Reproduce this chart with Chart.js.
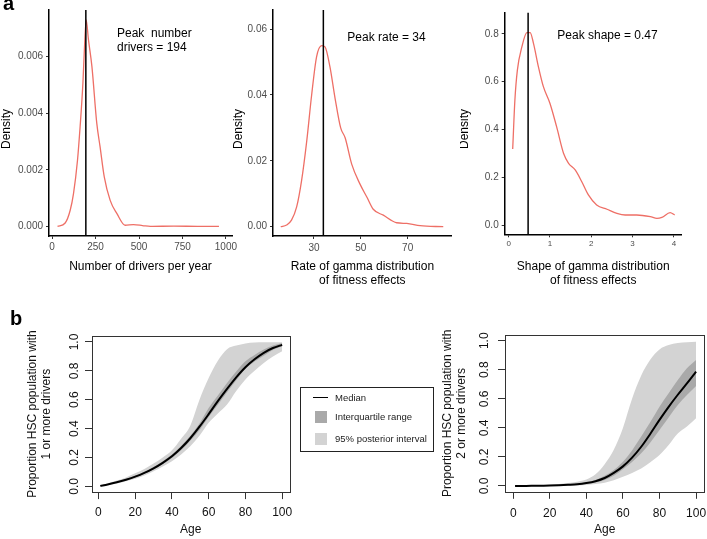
<!DOCTYPE html>
<html>
<head>
<meta charset="utf-8">
<script src="https://cdn.jsdelivr.net/npm/chart.js@4.4.0/dist/chart.umd.min.js"></script>
<style>
  body { margin: 0; background: #fff; font-family: "Liberation Sans", Arial, sans-serif; }
  #fig { position: relative; width: 707px; height: 539px; overflow: hidden; background: #fff; }
  #fig canvas { position: absolute; }
  .letter { position: absolute; font-weight: bold; font-size: 20px; line-height: 20px; color: #000; }
  #legend { position: absolute; left: 300px; top: 387px; width: 134px; height: 65px; box-sizing: border-box; border: 1px solid #222; font-size: 9.5px; color: #222; }
  #legend div { position: absolute; }
  #legend .txt { left: 34px; line-height: 12px; white-space: nowrap; }
</style>
</head>
<body>
<div id="fig">
  <canvas id="a1" width="240" height="290" style="left:0;top:0"></canvas>
  <canvas id="a2" width="232" height="290" style="left:230px;top:0"></canvas>
  <canvas id="a3" width="247" height="290" style="left:460px;top:0"></canvas>
  <canvas id="b1" width="300" height="239" style="left:0;top:300px"></canvas>
  <canvas id="b2" width="360" height="239" style="left:360px;top:300px"></canvas>
  <div class="letter" style="left:3px;top:-7px">a</div>
  <div class="letter" style="left:10px;top:308px">b</div>
  <div id="legend">
    <div style="left:12px;top:9px;width:15px;height:0;border-top:1px solid #000"></div>
    <div class="txt" style="top:4px">Median</div>
    <div style="left:14px;top:23px;width:12px;height:12px;background:#a9a9a9"></div>
    <div class="txt" style="top:23px">Interquartile range</div>
    <div style="left:14px;top:45px;width:12px;height:12px;background:#d3d3d3"></div>
    <div class="txt" style="top:45px">95% posterior interval</div>
  </div>
</div>
<script>
// Panel a: Dichtekurven
const a1X = [31, 75, 104, 123, 146, 161, 177, 186, 196, 209, 229, 257, 276, 300, 334, 373, 420, 468, 520, 565, 700, 850, 960];
const a1Y = [0, 0.00012, 0.00057, 0.00116, 0.00234, 0.00352, 0.00505, 0.0063, 0.0073, 0.0066, 0.00565, 0.00364, 0.00281, 0.00175, 0.00092, 0.00045, 0.00004, 0.00006, 0.00003, 0, 0.00001, 0, 0];
const a1Peak = 194;
const a1XTicks = [0, 250, 500, 750, 1000];
const a1YTicks = [0, 0.002, 0.004, 0.006];

const a2X = [15.8, 18.3, 20.4, 22.6, 24.7, 26.9, 29.0, 31.1, 33.3, 34.7, 36.8, 39.0, 41.4, 43.3, 46.1, 49.6, 52.5, 55.3, 59.6, 65.3, 69.6, 75.3, 85.2];
const a2Y = [0, 0.0005, 0.002, 0.006, 0.014, 0.026, 0.040, 0.0516, 0.055, 0.0546, 0.0486, 0.039, 0.030, 0.027, 0.019, 0.013, 0.0091, 0.0053, 0.0035, 0.0012, 0.001, 0.0003, 0];
const a2Peak = 34;
const a2XTicks = [30, 50, 70];
const a2YTicks = [0, 0.02, 0.04, 0.06];

const a3X = [0.097, 0.15, 0.21, 0.32, 0.44, 0.52, 0.60, 0.72, 0.84, 1.0, 1.16, 1.33, 1.45, 1.61, 1.77, 1.93, 2.13, 2.38, 2.62, 2.82, 3.10, 3.43, 3.59, 3.71, 3.91, 4.02];
const a3Y = [0.319, 0.523, 0.648, 0.746, 0.805, 0.805, 0.76, 0.662, 0.579, 0.509, 0.412, 0.30, 0.259, 0.231, 0.182, 0.127, 0.085, 0.067, 0.050, 0.043, 0.043, 0.036, 0.029, 0.033, 0.053, 0.043];
const a3Peak = 0.47;
const a3XTicks = [0, 1, 2, 3, 4];
const a3YTicks = [0, 0.2, 0.4, 0.6, 0.8];

// Panel b: Anteil HSC mit Treibern nach Alter
const ages = [1, 5, 10, 15, 20, 25, 30, 35, 40, 45, 50, 55, 60, 65, 70, 75, 80, 85, 90, 95, 100];
const b1Median = [0.003, 0.013, 0.028, 0.046, 0.067, 0.093, 0.125, 0.163, 0.208, 0.265, 0.333, 0.413, 0.500, 0.590, 0.675, 0.755, 0.825, 0.880, 0.925, 0.958, 0.980];
const b1IqrHigh = [0.004, 0.016, 0.032, 0.051, 0.073, 0.100, 0.134, 0.173, 0.220, 0.280, 0.350, 0.435, 0.543, 0.630, 0.716, 0.795, 0.866, 0.910, 0.947, 0.975, 0.993];
const b1IqrLow = [0.002, 0.011, 0.025, 0.042, 0.062, 0.087, 0.117, 0.153, 0.197, 0.250, 0.315, 0.390, 0.480, 0.565, 0.651, 0.735, 0.813, 0.865, 0.905, 0.945, 0.970];
const b1High95 = [0.005, 0.020, 0.040, 0.062, 0.090, 0.120, 0.158, 0.200, 0.250, 0.330, 0.420, 0.600, 0.750, 0.870, 0.950, 0.975, 0.990, 0.996, 0.998, 0.998, 0.998];
const b1Low95 = [0.001, 0.008, 0.020, 0.035, 0.053, 0.075, 0.104, 0.137, 0.173, 0.220, 0.277, 0.350, 0.440, 0.505, 0.566, 0.660, 0.740, 0.800, 0.855, 0.900, 0.935];

const b2Median = [0, 0.0005, 0.001, 0.002, 0.003, 0.005, 0.008, 0.012, 0.020, 0.033, 0.055, 0.090, 0.135, 0.195, 0.270, 0.360, 0.455, 0.545, 0.628, 0.706, 0.787];
const b2IqrHigh = [0.0005, 0.001, 0.0015, 0.0025, 0.004, 0.006, 0.010, 0.015, 0.025, 0.042, 0.070, 0.110, 0.167, 0.245, 0.340, 0.440, 0.546, 0.638, 0.729, 0.810, 0.867];
const b2IqrLow = [0, 0.0003, 0.0007, 0.0015, 0.0025, 0.004, 0.006, 0.009, 0.015, 0.025, 0.042, 0.070, 0.115, 0.165, 0.225, 0.300, 0.385, 0.472, 0.557, 0.626, 0.688];
const b2High95 = [0.001, 0.002, 0.004, 0.006, 0.009, 0.013, 0.020, 0.030, 0.045, 0.080, 0.150, 0.250, 0.400, 0.600, 0.760, 0.870, 0.940, 0.970, 0.985, 0.990, 0.993];
const b2Low95 = [0, 0, 0, 0, 0, 0.001, 0.002, 0.004, 0.007, 0.013, 0.023, 0.040, 0.064, 0.090, 0.120, 0.163, 0.213, 0.282, 0.362, 0.410, 0.466];

const bXTicks = [0, 20, 40, 60, 80, 100];
const bYTicks = [0, 0.2, 0.4, 0.6, 0.8, 1.0];

const FONT = '"Liberation Sans", Arial, sans-serif';
Chart.defaults.font.family = FONT;
Chart.defaults.animation = false;
Chart.defaults.events = [];
Chart.defaults.plugins.legend.display = false;
Chart.defaults.plugins.tooltip.enabled = false;

const toPoints = (xs, ys) => xs.map((x, i) => ({ x: x, y: ys[i] }));
const fixedTicks = (list) => (scale) => { scale.ticks = list.map((v) => ({ value: v })); };

// Texte im Plot (Peak-Beschriftung, "Density")
const notePlugin = {
  id: "notes",
  afterDraw(chart, args, opts) {
    if (!opts.lines) return;
    const ctx = chart.ctx;
    opts.lines.forEach((l) => {
      ctx.save();
      ctx.font = (l.size || 12) + "px " + FONT;
      ctx.fillStyle = "#000";
      ctx.textBaseline = "middle";
      if (l.rotate) {
        ctx.translate(l.x, l.y);
        ctx.rotate(-Math.PI / 2);
        ctx.textAlign = "center";
        ctx.fillText(l.text, 0, 0);
      } else {
        ctx.fillText(l.text, l.x, l.y);
      }
      ctx.restore();
    });
  },
};

// Rahmen um die Plotflaeche (base R Stil)
const boxPlugin = {
  id: "box",
  afterDraw(chart, args, opts) {
    if (!opts.show) return;
    const a = chart.chartArea;
    const ctx = chart.ctx;
    ctx.save();
    ctx.strokeStyle = "#333";
    ctx.lineWidth = 1;
    ctx.strokeRect(Math.round(a.left) + 0.5, Math.round(a.top) + 0.5, Math.round(a.right - a.left), Math.round(a.bottom - a.top));
    ctx.restore();
  },
};
Chart.register(notePlugin, boxPlugin);

function densityChart(id, c) {
  const canvas = document.getElementById(id);
  new Chart(canvas, {
    type: "line",
    data: {
      datasets: [
        {
          data: [{ x: c.peak, y: c.yMin - 1 }, { x: c.peak, y: c.yMax + 1 }],
          borderColor: "#000",
          borderWidth: 1.5,
          pointRadius: 0,
        },
        {
          data: toPoints(c.xs, c.ys),
          borderColor: "#ee6f66",
          borderWidth: 1.3,
          pointRadius: 0,
          cubicInterpolationMode: "monotone",
        },
      ],
    },
    options: {
      responsive: false,
      layout: { padding: { left: 0, top: c.area.top, right: canvas.width - c.area.right, bottom: 0 } },
      plugins: { notes: { lines: c.notes.concat([{ text: "Density", x: c.densityX, y: 129, rotate: true, size: 12 }]) } },
      scales: {
        x: {
          type: "linear",
          min: c.xMin,
          max: c.xMax,
          afterBuildTicks: fixedTicks(c.xTicks),
          afterFit: (s) => { s.height = canvas.height - c.area.bottom; },
          grid: { display: true, drawOnChartArea: false, tickLength: 3, color: "#333" },
          border: { display: true, color: "#000", width: 1.5 },
          ticks: { color: "#4d4d4d", font: { size: c.xTickSize }, padding: c.xTickPad, maxRotation: 0, autoSkip: false, callback: (v) => String(v) },
          title: { display: true, text: c.xTitle, color: "#000", font: { size: 12 }, padding: { top: 0, bottom: c.xTitlePad } },
        },
        y: {
          type: "linear",
          min: c.yMin,
          max: c.yMax,
          afterBuildTicks: fixedTicks(c.yTicks),
          afterFit: (s) => { s.width = c.area.left; },
          grid: { display: true, drawOnChartArea: false, tickLength: 3, color: "#333" },
          border: { display: true, color: "#000", width: 1.5 },
          ticks: { color: "#4d4d4d", font: { size: 10 }, padding: 3, autoSkip: false, callback: (v) => v.toFixed(c.yDigits) },
        },
      },
    },
  });
}

function bandChart(id, c) {
  const canvas = document.getElementById(id);
  const band = (ys, fill, color, order) => ({
    data: toPoints(ages, ys),
    borderColor: "transparent",
    borderWidth: 0,
    pointRadius: 0,
    fill: fill,
    backgroundColor: color,
    order: order,
    cubicInterpolationMode: "monotone",
  });
  new Chart(canvas, {
    type: "line",
    data: {
      datasets: [
        { data: toPoints(ages, c.median), borderColor: "#000", borderWidth: 2, pointRadius: 0, order: 0, cubicInterpolationMode: "monotone" },
        band(c.iqrHigh, "+1", "#a9a9a9", 1),
        band(c.iqrLow, false, "#a9a9a9", 1),
        band(c.high95, "+1", "#d3d3d3", 2),
        band(c.low95, false, "#d3d3d3", 2),
      ],
    },
    options: {
      responsive: false,
      layout: { padding: { left: 0, top: c.area.top, right: canvas.width - c.area.right, bottom: 0 } },
      plugins: { box: { show: true } },
      scales: {
        x: {
          type: "linear",
          min: c.xMin,
          max: c.xMax,
          afterBuildTicks: fixedTicks(bXTicks),
          afterFit: (s) => { s.height = canvas.height - c.area.bottom; },
          grid: { display: true, drawOnChartArea: false, tickLength: 7, color: "#333" },
          border: { display: false },
          ticks: { color: "#111", font: { size: 12 }, padding: c.xTickPad, maxRotation: 0, autoSkip: false, callback: (v) => String(v) },
          title: { display: true, text: "Age", color: "#111", font: { size: 12 }, padding: { top: 0, bottom: c.xTitlePad } },
        },
        y: {
          type: "linear",
          min: -0.04,
          max: 1.04,
          afterBuildTicks: fixedTicks(bYTicks),
          afterFit: (s) => { s.width = c.area.left; },
          grid: { display: true, drawOnChartArea: false, tickLength: 7, color: "#333" },
          border: { display: false },
          ticks: { color: "#111", font: { size: 12 }, padding: c.yTickPad, minRotation: 90, maxRotation: 90, crossAlign: "center", autoSkip: false, callback: (v) => v.toFixed(1) },
          title: { display: true, text: c.yTitle, color: "#111", font: { size: 12 }, padding: { top: c.yTitlePad, bottom: 0 } },
        },
      },
    },
  });
}

densityChart("a1", {
  xs: a1X, ys: a1Y, peak: a1Peak, xTicks: a1XTicks, yTicks: a1YTicks,
  xMin: -18, xMax: 1035, yMin: -0.00034, yMax: 0.00765, yDigits: 3,
  area: { left: 49, right: 232, top: 10, bottom: 236 },
  xTickSize: 10, xTickPad: 2, xTitlePad: 16, densityX: 6.5,
  xTitle: "Number of drivers per year",
  notes: [{ text: "Peak  number", x: 117, y: 34 }, { text: "drivers = 194", x: 117, y: 48 }],
});

densityChart("a2", {
  xs: a2X, ys: a2Y, peak: a2Peak, xTicks: a2XTicks, yTicks: a2YTicks,
  xMin: 12.5, xMax: 88.8, yMin: -0.00282, yMax: 0.0658, yDigits: 2,
  area: { left: 43, right: 221.7, top: 10, bottom: 236 },
  xTickSize: 10, xTickPad: 3, xTitlePad: 1.7, densityX: 8.5,
  xTitle: ["Rate of gamma distribution", "of fitness effects"],
  notes: [{ text: "Peak rate = 34", x: 117.3, y: 37.3 }],
});

densityChart("a3", {
  xs: a3X, ys: a3Y, peak: a3Peak, xTicks: a3XTicks, yTicks: a3YTicks,
  xMin: -0.097, xMax: 4.19, yMin: -0.0376, yMax: 0.888, yDigits: 1,
  area: { left: 44.7, right: 221.7, top: 12.7, bottom: 234.3 },
  xTickSize: 8, xTickPad: 2, xTitlePad: 1.7, densityX: 5,
  xTitle: ["Shape of gamma distribution", "of fitness effects"],
  notes: [{ text: "Peak shape = 0.47", x: 97.3, y: 35.7 }],
});

bandChart("b1", {
  median: b1Median, iqrHigh: b1IqrHigh, iqrLow: b1IqrLow, high95: b1High95, low95: b1Low95,
  xMin: -3.5, xMax: 104,
  area: { left: 92, right: 289.5, top: 36.2, bottom: 192.1 },
  xTickPad: 6.4, xTitlePad: 1.8, yTickPad: 2.4, yTitlePad: 25.1,
  yTitle: ["Proportion HSC population with", "1 or more drivers"],
});

bandChart("b2", {
  median: b2Median, iqrHigh: b2IqrHigh, iqrLow: b2IqrLow, high95: b2High95, low95: b2Low95,
  xMin: -4.5, xMax: 104.5,
  area: { left: 145, right: 344.3, top: 34.9, bottom: 191.8 },
  xTickPad: 8, xTitlePad: 2.5, yTickPad: 4.7, yTitlePad: 80.1,
  yTitle: ["Proportion HSC population with", "2 or more drivers"],
});
</script>
</body>
</html>
